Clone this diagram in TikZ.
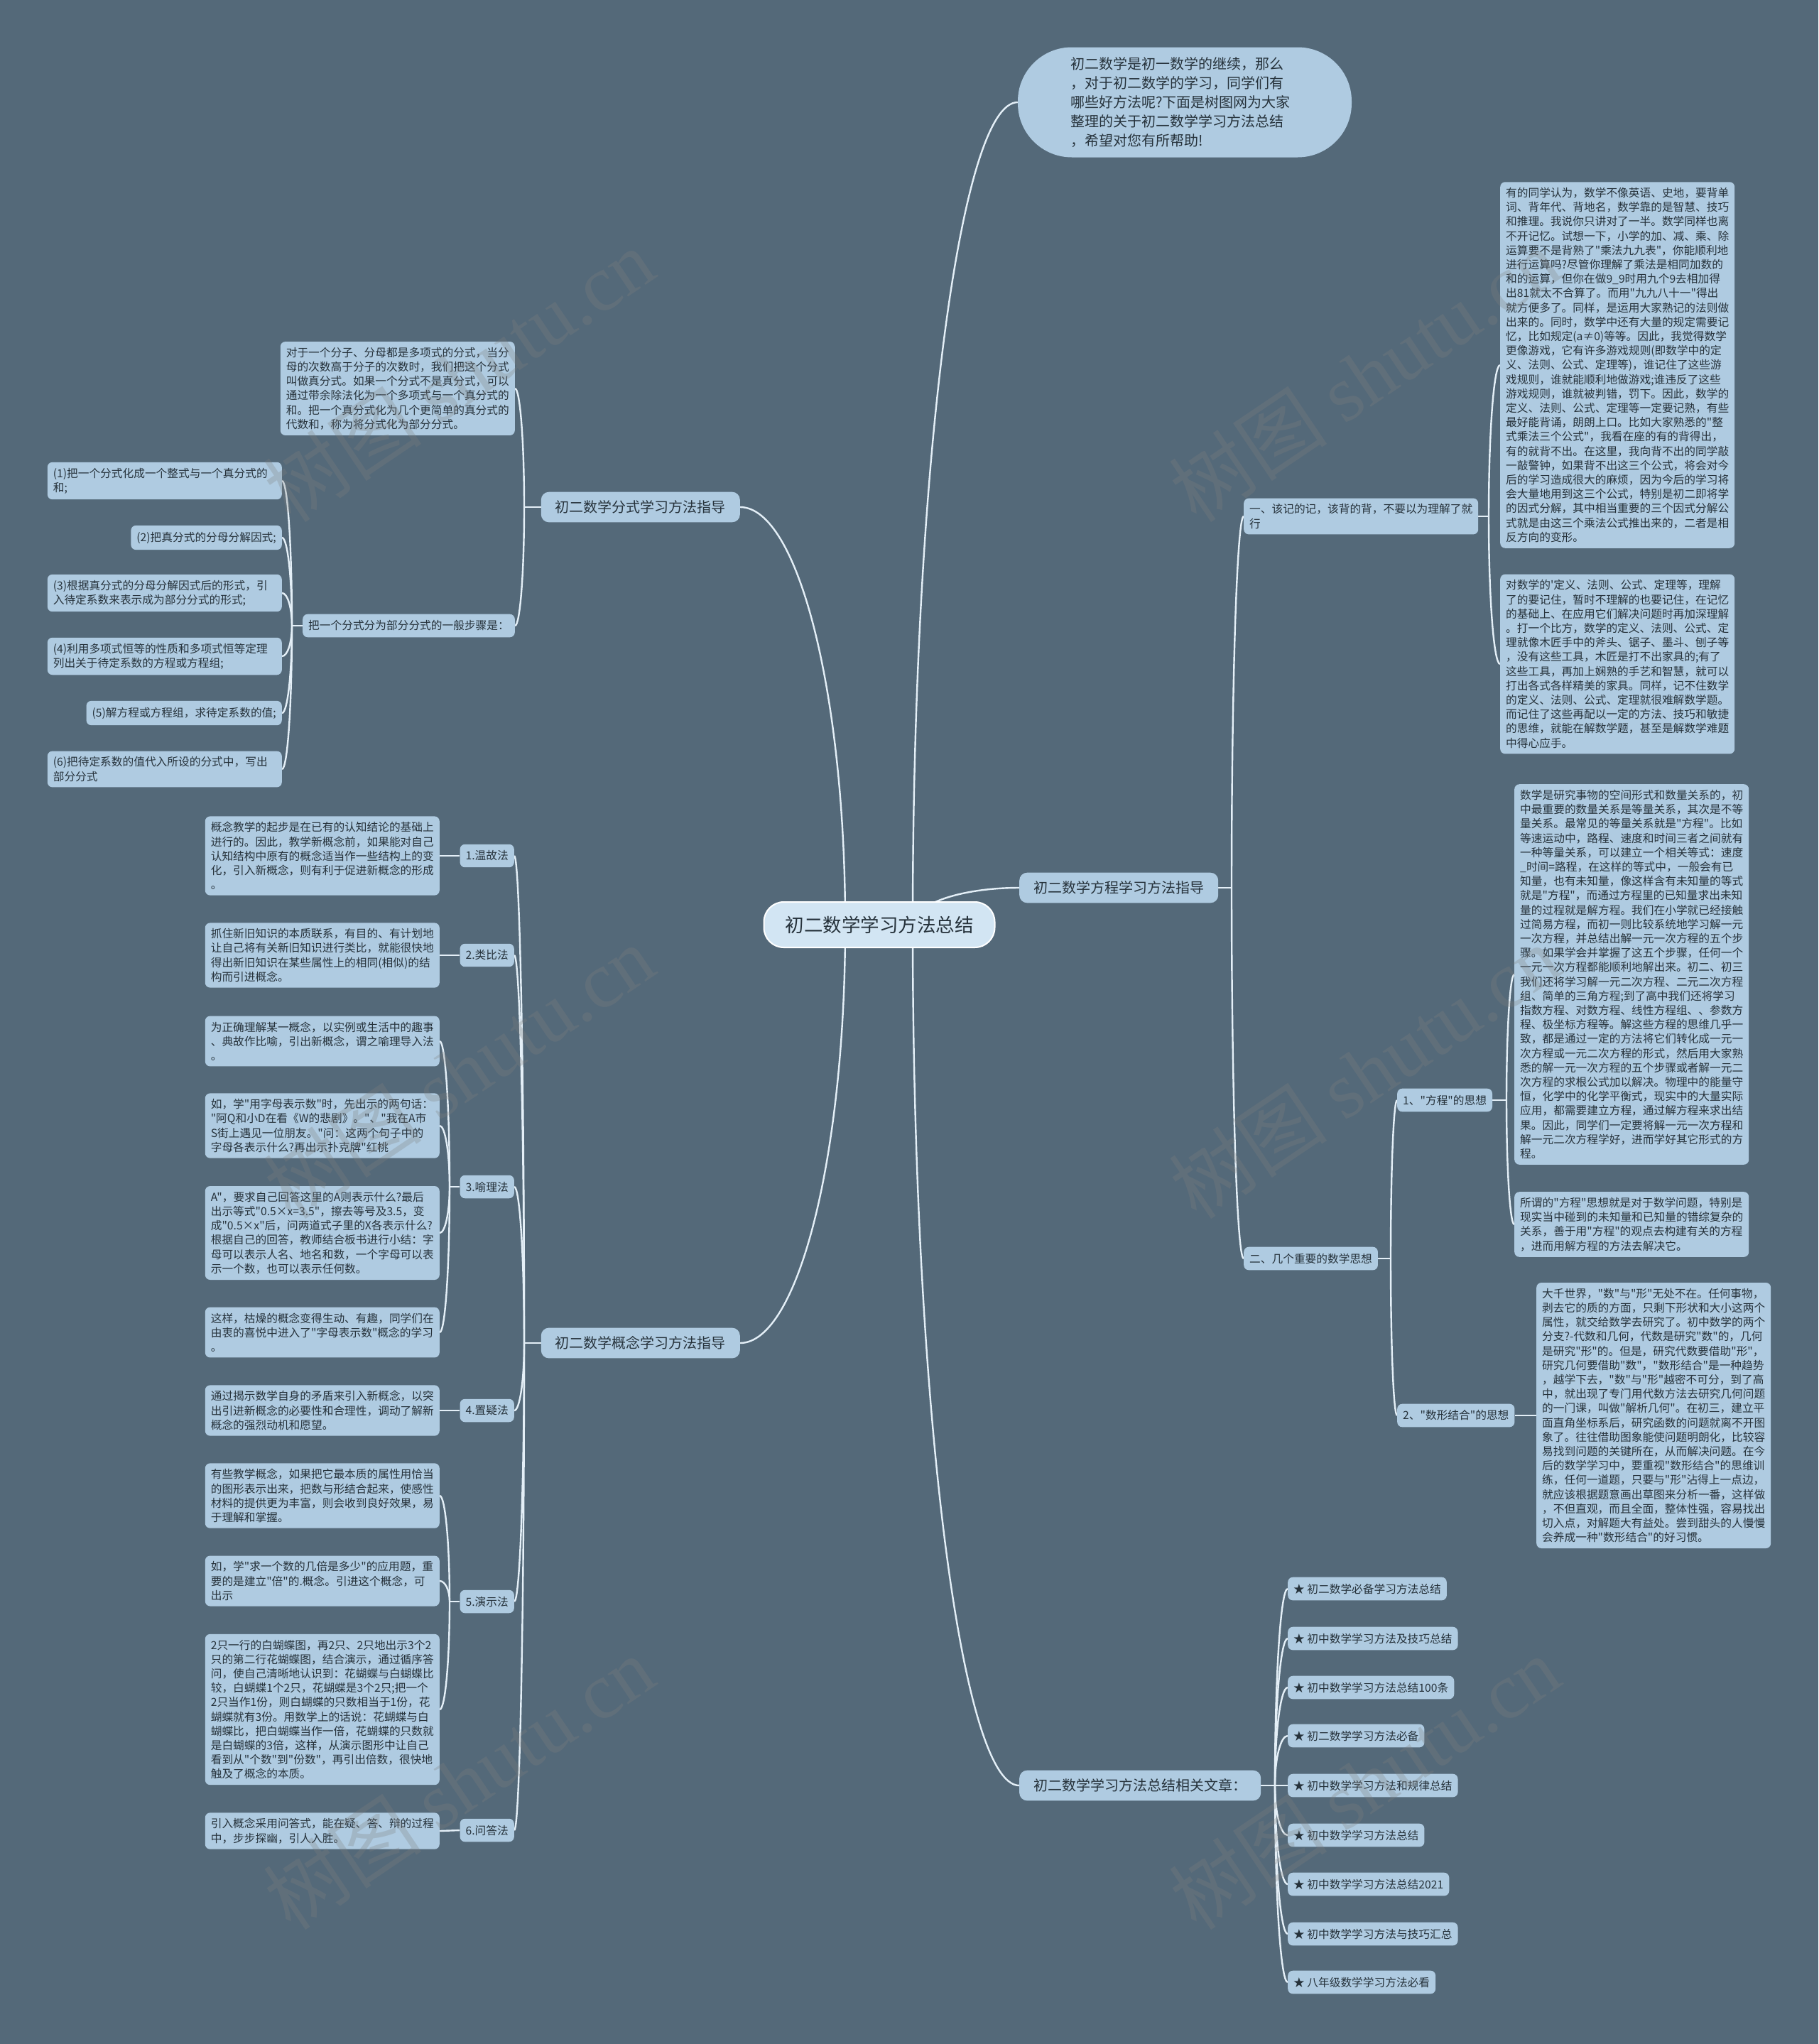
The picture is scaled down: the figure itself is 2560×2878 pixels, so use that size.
\documentclass[tikz,border=0pt]{standalone}
\usepackage{fontspec}
\setmainfont{Noto Sans CJK SC}[Ligatures=TeXOff]
\newfontfamily\wmlatin{Liberation Serif}
\usetikzlibrary{calc,backgrounds}
\definecolor{bgc}{HTML}{546979}
\definecolor{nodefill}{HTML}{AFCBE1}
\definecolor{centerfill}{HTML}{D2E5F3}
\definecolor{textc}{HTML}{26323B}
\definecolor{linec}{HTML}{E4EFF7}
\newcommand\wsmall{\fontsize{15.7}{20.2}\selectfont}
\newcommand\wmid{\fontsize{20}{27}\selectfont}
\newcommand\wlarge{\fontsize{26.5}{32}\selectfont}
\newcommand\wmark{\fontsize{112}{112}\selectfont}
\newcommand\qconn[2]{\draw[conn] (#1) .. controls ($(#1)!0.552!(#1|-#2)$) and ($(#2)!0.552!(#1|-#2)$) .. (#2);}
\begin{document}
\begin{tikzpicture}[x=1pt,y=-1pt,
  conn/.style={draw=linec, line width=2.4pt},
  box/.style={rectangle, rounded corners=7pt, fill=nodefill, text=textc, font=\wsmall, inner xsep=8pt, inner ysep=8pt},
  para/.style={box, align=left, text width=314pt},
  lbl/.style={box, inner ysep=9pt},
  lvlone/.style={rectangle, rounded corners=11pt, fill=nodefill, text=textc, font=\wmid, inner xsep=20pt, inner ysep=12pt},
  bubble/.style={rectangle, rounded corners=76pt, fill=nodefill, text=textc, font=\wmid, align=left, text width=322pt, inner xsep=74pt, inner ysep=12pt, minimum height=155pt},
  centernode/.style={rectangle, rounded corners=28pt, fill=centerfill, draw=white, line width=2pt, text=textc, font=\wlarge, inner xsep=30pt, minimum height=64pt},
  wm/.style={text=gray, opacity=0.28, font=\wmark, rotate=34}
]
\useasboundingbox (0,0) rectangle (2560,2878);

% ---------- centre ----------
\node[centernode] (c) at (1238,1302) {初二数学学习方法总结};
\coordinate (cR) at (1285,1302);
\coordinate (cL) at (1190,1302);

% ---------- right: intro bubble ----------
\node[bubble] (r0) at (1668,144) {初二数学是初一数学的继续，那么\\，对于初二数学的学习，同学们有\\哪些好方法呢?下面是树图网为大家\\整理的关于初二数学学习方法总结\\，希望对您有所帮助!};

% ---------- right: 方程 branch ----------
\node[lvlone, anchor=west] (r1) at (1435,1250) {初二数学方程学习方法指导};
\coordinate (jr1) at (1734,1250);
\node[para, anchor=west] (r1a) at (1751,727) {一、该记的记，该背的背，不要以为理解了就\\行};
\coordinate (jr1a) at (2096,727);
\node[para, anchor=west] (a1) at (2112,514) {有的同学认为，数学不像英语、史地，要背单\\词、背年代、背地名，数学靠的是智慧、技巧\\和推理。我说你只讲对了一半。数学同样也离\\不开记忆。试想一下，小学的加、减、乘、除\\运算要不是背熟了"乘法九九表"，你能顺利地\\进行运算吗?尽管你理解了乘法是相同加数的\\和的运算，但你在做9\_9时用九个9去相加得\\出81就太不合算了。而用"九九八十一"得出\\就方便多了。同样，是运用大家熟记的法则做\\出来的。同时，数学中还有大量的规定需要记\\忆，比如规定(a≠0)等等。因此，我觉得数学\\更像游戏，它有许多游戏规则(即数学中的定\\义、法则、公式、定理等)，谁记住了这些游\\戏规则，谁就能顺利地做游戏;谁违反了这些\\游戏规则，谁就被判错，罚下。因此，数学的\\定义、法则、公式、定理等一定要记熟，有些\\最好能背诵，朗朗上口。比如大家熟悉的"整\\式乘法三个公式"，我看在座的有的背得出，\\有的就背不出。在这里，我向背不出的同学敲\\一敲警钟，如果背不出这三个公式，将会对今\\后的学习造成很大的麻烦，因为今后的学习将\\会大量地用到这三个公式，特别是初二即将学\\的因式分解，其中相当重要的三个因式分解公\\式就是由这三个乘法公式推出来的，二者是相\\反方向的变形。};
\node[para, anchor=west] (a2) at (2112,935) {对数学的'定义、法则、公式、定理等，理解\\了的要记住，暂时不理解的也要记住，在记忆\\的基础上、在应用它们解决问题时再加深理解\\。打一个比方，数学的定义、法则、公式、定\\理就像木匠手中的斧头、锯子、墨斗、刨子等\\，没有这些工具，木匠是打不出家具的;有了\\这些工具，再加上娴熟的手艺和智慧，就可以\\打出各式各样精美的家具。同样，记不住数学\\的定义、法则、公式、定理就很难解数学题。\\而记住了这些再配以一定的方法、技巧和敏捷\\的思维，就能在解数学题，甚至是解数学难题\\中得心应手。};
\node[lbl, anchor=west] (r1b) at (1751,1772) {二、几个重要的数学思想};
\coordinate (jr1b) at (1958,1772);
\node[lbl, anchor=west] (f) at (1967,1549) {1、"方程"的思想};
\coordinate (jf) at (2121,1549);
\node[para, anchor=west] (f1) at (2132,1372) {数学是研究事物的空间形式和数量关系的，初\\中最重要的数量关系是等量关系，其次是不等\\量关系。最常见的等量关系就是"方程"。比如\\等速运动中，路程、速度和时间三者之间就有\\一种等量关系，可以建立一个相关等式：速度\\\_时间=路程，在这样的等式中，一般会有已\\知量，也有未知量，像这样含有未知量的等式\\就是"方程"，而通过方程里的已知量求出未知\\量的过程就是解方程。我们在小学就已经接触\\过简易方程，而初一则比较系统地学习解一元\\一次方程，并总结出解一元一次方程的五个步\\骤。如果学会并掌握了这五个步骤，任何一个\\一元一次方程都能顺利地解出来。初二、初三\\我们还将学习解一元二次方程、二元二次方程\\组、简单的三角方程;到了高中我们还将学习\\指数方程、对数方程、线性方程组、、参数方\\程、极坐标方程等。解这些方程的思维几乎一\\致，都是通过一定的方法将它们转化成一元一\\次方程或一元二次方程的形式，然后用大家熟\\悉的解一元一次方程的五个步骤或者解一元二\\次方程的求根公式加以解决。物理中的能量守\\恒，化学中的化学平衡式，现实中的大量实际\\应用，都需要建立方程，通过解方程来求出结\\果。因此，同学们一定要将解一元一次方程和\\解一元二次方程学好，进而学好其它形式的方\\程。};
\node[para, anchor=west] (f2) at (2132,1724) {所谓的"方程"思想就是对于数学问题，特别是\\现实当中碰到的未知量和已知量的错综复杂的\\关系，善于用"方程"的观点去构建有关的方程\\，进而用解方程的方法去解决它。};
\node[lbl, anchor=west] (x) at (1967,1993) {2、"数形结合"的思想};
\node[para, anchor=west] (x1) at (2163,1993) {大千世界，"数"与"形"无处不在。任何事物，\\剥去它的质的方面，只剩下形状和大小这两个\\属性，就交给数学去研究了。初中数学的两个\\分支?-代数和几何，代数是研究"数"的，几何\\是研究"形"的。但是，研究代数要借助"形"，\\研究几何要借助"数"，"数形结合"是一种趋势\\，越学下去，"数"与"形"越密不可分，到了高\\中，就出现了专门用代数方法去研究几何问题\\的一门课，叫做"解析几何"。在初三，建立平\\面直角坐标系后，研究函数的问题就离不开图\\象了。往往借助图象能使问题明朗化，比较容\\易找到问题的关键所在，从而解决问题。在今\\后的数学学习中，要重视"数形结合"的思维训\\练，任何一道题，只要与"形"沾得上一点边，\\就应该根据题意画出草图来分析一番，这样做\\，不但直观，而且全面，整体性强，容易找出\\切入点，对解题大有益处。尝到甜头的人慢慢\\会养成一种"数形结合"的好习惯。};

% ---------- right: related articles ----------
\node[lvlone, anchor=west] (r2) at (1435,2514) {初二数学学习方法总结相关文章：};
\coordinate (jr2) at (1795,2514);
\node[lbl, anchor=west] (s1) at (1813,2237) {★ 初二数学必备学习方法总结};
\node[lbl, anchor=west] (s2) at (1813,2307) {★ 初中数学学习方法及技巧总结};
\node[lbl, anchor=west] (s3) at (1813,2376) {★ 初中数学学习方法总结100条};
\node[lbl, anchor=west] (s4) at (1813,2444) {★ 初二数学学习方法必备};
\node[lbl, anchor=west] (s5) at (1813,2514) {★ 初中数学学习方法和规律总结};
\node[lbl, anchor=west] (s6) at (1813,2584) {★ 初中数学学习方法总结};
\node[lbl, anchor=west] (s7) at (1813,2653) {★ 初中数学学习方法总结2021};
\node[lbl, anchor=west] (s8) at (1813,2723) {★ 初中数学学习方法与技巧汇总};
\node[lbl, anchor=west] (s9) at (1813,2791) {★ 八年级数学学习方法必看};

% ---------- left: 分式 branch ----------
\node[lvlone, anchor=east] (l1) at (1042,714) {初二数学分式学习方法指导};
\coordinate (jl1) at (738,714);
\node[para, anchor=east] (l1a) at (725,547) {对于一个分子、分母都是多项式的分式，当分\\母的次数高于分子的次数时，我们把这个分式\\叫做真分式。如果一个分式不是真分式，可以\\通过带余除法化为一个多项式与一个真分式的\\和。把一个真分式化为几个更简单的真分式的\\代数和，称为将分式化为部分分式。};
\node[lbl, anchor=east] (l1b) at (725,881) {把一个分式分为部分分式的一般步骤是：};
\coordinate (jl1b) at (411,881);
\node[para, anchor=east] (p1) at (397,677) {(1)把一个分式化成一个整式与一个真分式的\\和;};
\node[lbl, anchor=east] (p2) at (397,757) {(2)把真分式的分母分解因式;};
\node[para, anchor=east] (p3) at (397,835) {(3)根据真分式的分母分解因式后的形式，引\\入待定系数来表示成为部分分式的形式;};
\node[para, anchor=east] (p4) at (397,924) {(4)利用多项式恒等的性质和多项式恒等定理\\列出关于待定系数的方程或方程组;};
\node[lbl, anchor=east] (p5) at (397,1004) {(5)解方程或方程组，求待定系数的值;};
\node[para, anchor=east] (p6) at (397,1083) {(6)把待定系数的值代入所设的分式中，写出\\部分分式};

% ---------- left: 概念 branch ----------
\node[lvlone, anchor=east] (l2) at (1042,1891) {初二数学概念学习方法指导};
\coordinate (jl2) at (738,1891);
\node[lbl, anchor=east] (m1) at (724,1205) {1.温故法};
\node[lbl, anchor=east] (m2) at (724,1345) {2.类比法};
\node[lbl, anchor=east] (m3) at (724,1671) {3.喻理法};
\node[lbl, anchor=east] (m4) at (724,1986) {4.置疑法};
\node[lbl, anchor=east] (m5) at (724,2255) {5.演示法};
\node[lbl, anchor=east] (m6) at (724,2577) {6.问答法};
\coordinate (jm3) at (633,1671);
\coordinate (jm5) at (633,2255);
\node[para, anchor=east] (g1) at (619,1205) {概念教学的起步是在已有的认知结论的基础上\\进行的。因此，教学新概念前，如果能对自己\\认知结构中原有的概念适当作一些结构上的变\\化，引入新概念，则有利于促进新概念的形成\\。};
\node[para, anchor=east] (g2) at (619,1345) {抓住新旧知识的本质联系，有目的、有计划地\\让自己将有关新旧知识进行类比，就能很快地\\得出新旧知识在某些属性上的相同(相似)的结\\构而引进概念。};
\node[para, anchor=east] (g3a) at (619,1466) {为正确理解某一概念，以实例或生活中的趣事\\、典故作比喻，引出新概念，谓之喻理导入法\\。};
\node[para, anchor=east] (g3b) at (619,1585) {如，学"用字母表示数"时，先出示的两句话：\\"阿Q和小D在看《W的悲剧》。"、"我在A市\\S街上遇见一位朋友。"问：这两个句子中的\\字母各表示什么?再出示扑克牌"红桃};
\node[para, anchor=east] (g3c) at (619,1736) {A"，要求自己回答这里的A则表示什么?最后\\出示等式"0.5×x=3.5"，擦去等号及3.5，变\\成"0.5×x"后，问两道式子里的X各表示什么?\\根据自己的回答，教师结合板书进行小结：字\\母可以表示人名、地名和数，一个字母可以表\\示一个数，也可以表示任何数。};
\node[para, anchor=east] (g3d) at (619,1876) {这样，枯燥的概念变得生动、有趣，同学们在\\由衷的喜悦中进入了"字母表示数"概念的学习\\。};
\node[para, anchor=east] (g4) at (619,1986) {通过揭示数学自身的矛盾来引入新概念，以突\\出引进新概念的必要性和合理性，调动了解新\\概念的强烈动机和愿望。};
\node[para, anchor=east] (g5a) at (619,2106) {有些教学概念，如果把它最本质的属性用恰当\\的图形表示出来，把数与形结合起来，使感性\\材料的提供更为丰富，则会收到良好效果，易\\于理解和掌握。};
\node[para, anchor=east] (g5b) at (619,2226) {如，学"求一个数的几倍是多少"的应用题，重\\要的是建立"倍"的.概念。引进这个概念，可\\出示};
\node[para, anchor=east] (g5c) at (619,2407) {2只一行的白蝴蝶图，再2只、2只地出示3个2\\只的第二行花蝴蝶图，结合演示，通过循序答\\问，使自己清晰地认识到：花蝴蝶与白蝴蝶比\\较，白蝴蝶1个2只，花蝴蝶是3个2只;把一个\\2只当作1份，则白蝴蝶的只数相当于1份，花\\蝴蝶就有3份。用数学上的话说：花蝴蝶与白\\蝴蝶比，把白蝴蝶当作一倍，花蝴蝶的只数就\\是白蝴蝶的3倍，这样，从演示图形中让自己\\看到从"个数"到"份数"，再引出倍数，很快地\\触及了概念的本质。};
\node[para, anchor=east] (g6) at (619,2578) {引入概念采用问答式，能在疑、答、辩的过程\\中，步步探幽，引人入胜。};

% ---------- connectors ----------
\begin{pgfonlayer}{background}
\fill[bgc] (0,0) rectangle (2560,2878);
\qconn{cR}{r0.west}
\qconn{cR}{r1.west}
\qconn{cR}{r2.west}
\qconn{cL}{l1.east}
\qconn{cL}{l2.east}
\draw[conn] (r1.east) -- (jr1);
\qconn{jr1}{r1a.west}
\qconn{jr1}{r1b.west}
\draw[conn] (r1a.east) -- (jr1a);
\qconn{jr1a}{a1.west}
\qconn{jr1a}{a2.west}
\draw[conn] (r1b.east) -- (jr1b);
\qconn{jr1b}{f.west}
\qconn{jr1b}{x.west}
\draw[conn] (f.east) -- (jf);
\qconn{jf}{f1.west}
\qconn{jf}{f2.west}
\draw[conn] (x.east) -- (x1.west);
\draw[conn] (r2.east) -- (jr2);
\foreach \i in {1,...,9} {\qconn{jr2}{s\i.west}}
\draw[conn] (l1.west) -- (jl1);
\qconn{jl1}{l1a.east}
\qconn{jl1}{l1b.east}
\draw[conn] (l1b.west) -- (jl1b);
\foreach \i in {1,...,6} {\qconn{jl1b}{p\i.east}}
\draw[conn] (l2.west) -- (jl2);
\foreach \i in {1,...,6} {\qconn{jl2}{m\i.east}}
\draw[conn] (m1.west) -- (g1.east);
\draw[conn] (m2.west) -- (g2.east);
\draw[conn] (m3.west) -- (jm3);
\qconn{jm3}{g3a.east}
\qconn{jm3}{g3b.east}
\qconn{jm3}{g3c.east}
\qconn{jm3}{g3d.east}
\draw[conn] (m4.west) -- (g4.east);
\draw[conn] (m5.west) -- (jm5);
\qconn{jm5}{g5a.east}
\qconn{jm5}{g5b.east}
\qconn{jm5}{g5c.east}
\draw[conn] (m6.west) -- (g6.east);
\end{pgfonlayer}

% ---------- watermarks ----------
\node[wm] (w1) at (646,528) {树图 {\wmlatin shutu.cn}};
\node[wm] (w2) at (646,1509) {树图 {\wmlatin shutu.cn}};
\node[wm] (w3) at (646,2510) {树图 {\wmlatin shutu.cn}};
\node[wm] (w4) at (1921,528) {树图 {\wmlatin shutu.cn}};
\node[wm] (w5) at (1921,1509) {树图 {\wmlatin shutu.cn}};
\node[wm] (w6) at (1921,2510) {树图 {\wmlatin shutu.cn}};
\end{tikzpicture}
\end{document}
